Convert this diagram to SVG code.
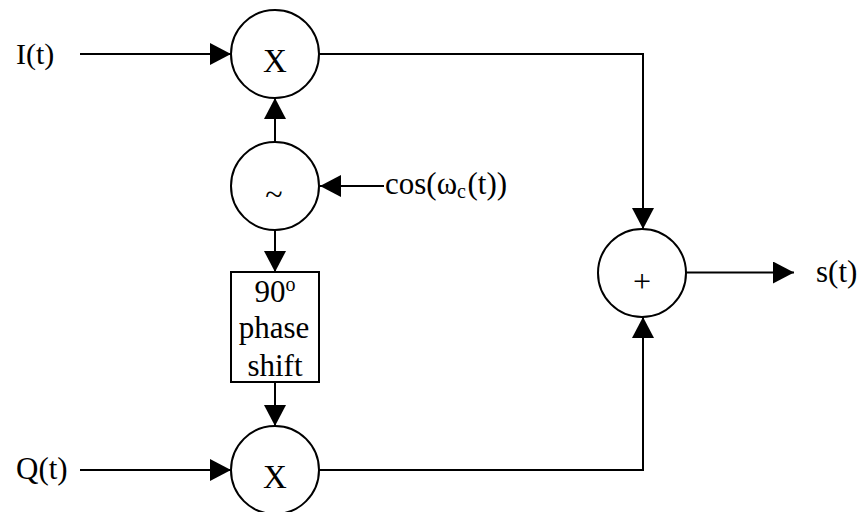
<svg xmlns="http://www.w3.org/2000/svg" width="858" height="512" viewBox="0 0 858 512">
<style>
text{font-family:"Liberation Serif","Times New Roman",serif;fill:#000}
.t{font-size:31px}
.c{fill:#fff;stroke:#000;stroke-width:2}
.l{fill:none;stroke:#000;stroke-width:2}
</style>
<defs><marker id="a" markerUnits="userSpaceOnUse" markerWidth="22" markerHeight="22" refX="21" refY="11" orient="auto" viewBox="0 0 22 22"><path d="M0 0L21 11L0 22z" fill="#000"/></marker></defs>
<rect width="858" height="512" fill="#fff"/>
<g id="connectors">
<path class="l" marker-end="url(#a)" d="M80 54H231"/>
<path class="l" marker-end="url(#a)" d="M80 470H231"/>
<path class="l" marker-end="url(#a)" d="M275 142V98"/>
<path class="l" marker-end="url(#a)" d="M384 186H320"/>
<path class="l" marker-end="url(#a)" d="M275 230V272"/>
<path class="l" marker-end="url(#a)" d="M275 382V426"/>
<path class="l" marker-end="url(#a)" d="M319 54H643V229"/>
<path class="l" marker-end="url(#a)" d="M319 470H643V317"/>
<path class="l" marker-end="url(#a)" d="M686 272.500H794"/>
</g>
<g id="n-i"><text class="t" x="16" y="64" style="font-size:30px">I(t)</text></g>
<g id="n-q"><text class="t" x="16" y="479">Q(t)</text></g>
<g id="n-x1"><circle class="c" cx="275" cy="54" r="44"/><text x="275" y="72" font-size="33" text-anchor="middle">X</text></g>
<g id="n-osc"><circle class="c" cx="275" cy="186" r="44"/><text x="274" y="205" font-size="32" text-anchor="middle">~</text></g>
<g id="n-cos"><text class="t" x="385" y="194">cos(ω<tspan font-size="20" dy="4">c</tspan><tspan dy="-4" dx="1.500">(t))</tspan></text></g>
<g id="n-shift"><rect class="c" x="231" y="272" width="88" height="110"/>
<text class="t" x="275" y="302" text-anchor="middle">90<tspan font-size="20" dy="-11">o</tspan></text>
<text class="t" x="274" y="338" text-anchor="middle">phase</text>
<text class="t" x="275" y="376" text-anchor="middle">shift</text></g>
<g id="n-x2"><circle class="c" cx="275" cy="470" r="44"/><text x="275" y="488" font-size="33" text-anchor="middle">X</text></g>
<g id="n-sum"><circle class="c" cx="642" cy="273" r="44"/><text x="642" y="292" font-size="32" text-anchor="middle" fill="#333">+</text></g>
<g id="n-s"><text class="t" x="816" y="282">s(t)</text></g>
</svg>
